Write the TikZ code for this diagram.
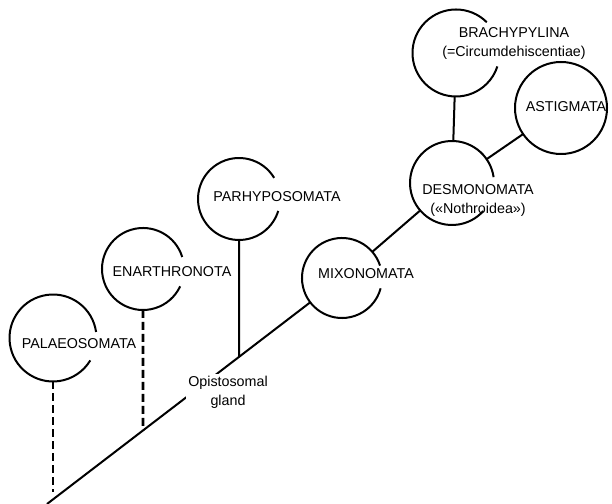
\documentclass[tikz,border=0pt]{standalone}
\usepackage{fontspec}
\setmainfont{Liberation Sans}

\begin{document}
\begin{tikzpicture}[x=1bp, y=1bp, line width=2bp]
\tikzstyle{ring} = [circle, minimum size=84bp, inner sep=0pt, outer sep=0pt]
\tikzstyle{taxon} = [font=\fontsize{14.3bp}{19bp}\selectfont, align=center, inner sep=0pt]
\tikzstyle{stem} = [dash pattern=on 8bp off 4bp, line width=2.6bp]
\useasboundingbox (0,0) rectangle (612,504);
\coordinate (root) at (47,0);
\coordinate (pal end) at (53,12);
\node[ring, minimum size=87bp] (pal) at (53,166) {};
\node[ring, minimum size=82bp] (ena) at (143,235) {};
\node[ring, minimum size=82bp] (par) at (239,305) {};
\node[ring, minimum size=80bp] (mix) at (342,226) {};
\node[ring] (des) at (452,321) {};
\node[ring, minimum size=87bp] (bra) at (456,451) {};
\node[ring, minimum size=92bp, draw] (ast) at (561,396) {};
% open rings
\draw (pal.8) arc[start angle=8, end angle=329, radius=43.5bp];
\draw (ena.17) arc[start angle=17, end angle=335, radius=41bp];
\draw (par.31) arc[start angle=31, end angle=343, radius=41bp];
\draw (mix.18) arc[start angle=18, end angle=345, radius=40bp];
\draw (des.8) arc[start angle=8, end angle=318, radius=42bp];
\draw (bra.45) arc[start angle=45, end angle=342, radius=43.5bp];
% branches
\draw (root) -- (mix);
\draw (mix) -- (des);
\draw (des) -- (ast);
\draw (bra) -- (des);
\draw (par) -- (intersection of par--par.south and root--mix);
\draw[stem] (ena) -- (intersection of ena--ena.south and root--mix);
\draw[stem] (pal) -- (pal end);
\node[taxon] at ([shift={(26,-6)}]pal) {PALAEOSOMATA};
\node[taxon] at ([shift={(29,-3)}]ena) {ENARTHRONOTA};
\node[taxon] at ([shift={(38,2)}]par) {PARHYPOSOMATA};
\node[taxon] at ([shift={(24,4)}]mix) {MIXONOMATA};
\node[taxon] at ([shift={(26,-17)}]des) {DESMONOMATA\\(«Nothroidea»)};
\node[taxon] at ([shift={(58,10)}]bra) {BRACHYPYLINA\\(=Circumdehiscentiae)};
\node[taxon] at ([shift={(5,1)}]ast) {ASTIGMATA};
\node[taxon, fill=white, inner sep=2bp] (opg) at (228,112) {Opistosomal\\gland};
\end{tikzpicture}
\end{document}
